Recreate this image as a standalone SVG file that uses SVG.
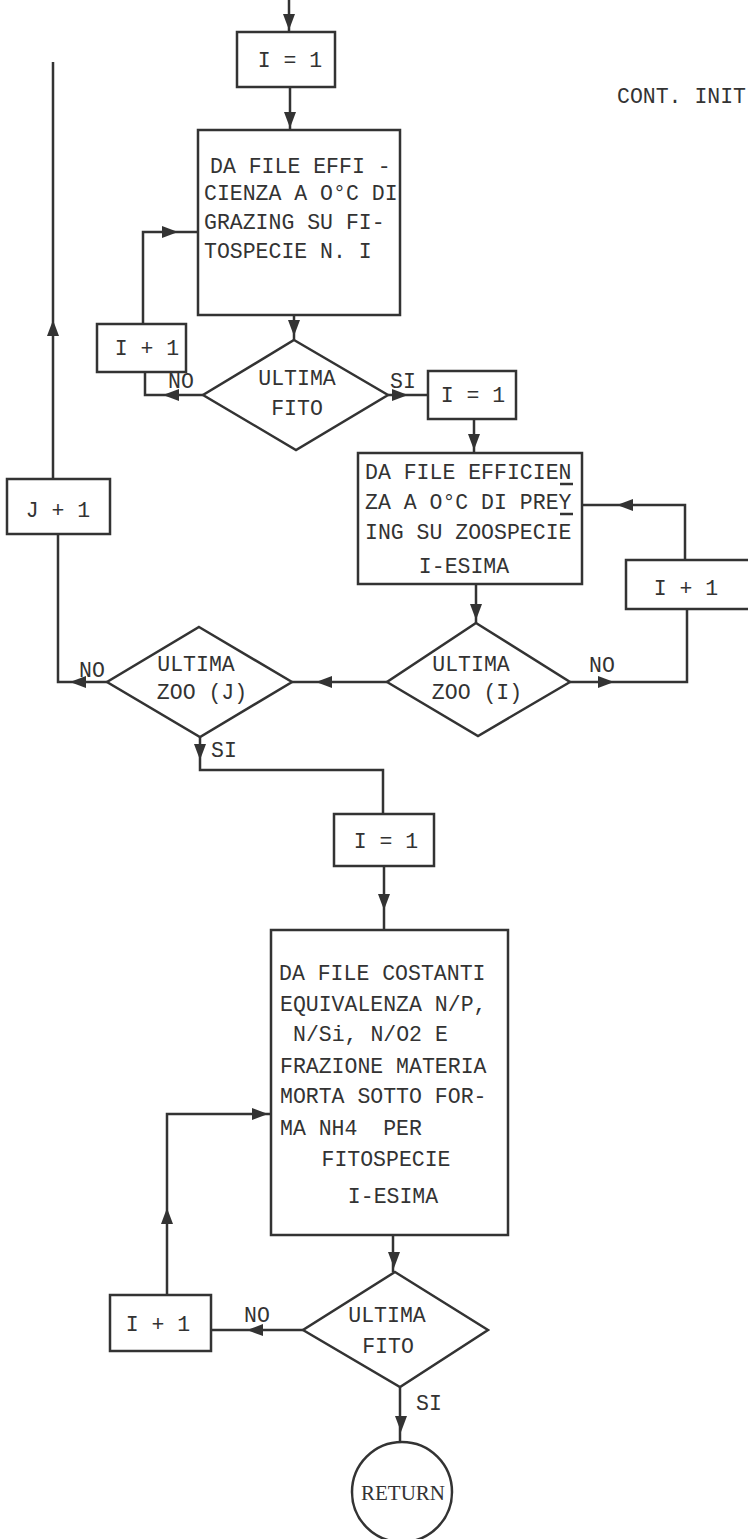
<svg xmlns="http://www.w3.org/2000/svg" xmlns:xlink="http://www.w3.org/1999/xlink" width="748" height="1539" viewBox="0 0 748 1539">
<style>
.s{fill:none;stroke:#333;stroke-width:2.5}
.b{fill:#fff;stroke:#333;stroke-width:2.5}
text{font-family:"Liberation Mono","DejaVu Sans Mono",monospace;font-size:21.5px;fill:#333;white-space:pre}
.c{text-anchor:middle}
.r{font-family:"Liberation Serif","DejaVu Serif",serif;font-size:21px}
.ah{fill:#333}
</style>
<defs>
<polygon id="ah" points="0,0 -16,-6 -16,6"/>
</defs>
<rect width="748" height="1539" fill="#fff"/>
<text x="617" y="103">CONT. INIT</text>

<g id="connectors" class="s">
<path d="M289,0 V32"/>
<path d="M290,87 V130"/>
<path d="M294,315 V340"/>
<path d="M143,324 V232 H199"/>
<path d="M203,395 H145 V372"/>
<path d="M388,395 H428"/>
<path d="M474,419 V453"/>
<path d="M582,505 H685 V560"/>
<path d="M476,584 V623"/>
<path d="M687,609 V682 H570"/>
<path d="M387,682 H292"/>
<path d="M107,682 H58 V534"/>
<path d="M53,479 V62"/>
<path d="M200,737 V770 H383 V814"/>
<path d="M384,866 V930"/>
<path d="M167,1295 V1114 H271"/>
<path d="M393,1235 V1272"/>
<path d="M303,1330 H211"/>
<path d="M400,1387 V1442"/>
</g>
<g id="arrowheads" class="ah">
<use xlink:href="#ah" transform="translate(289,30) rotate(90)"/>
<use xlink:href="#ah" transform="translate(290,128) rotate(90)"/>
<use xlink:href="#ah" transform="translate(294,336) rotate(90)"/>
<use xlink:href="#ah" transform="translate(178,232)"/>
<use xlink:href="#ah" transform="translate(163,395) rotate(180)"/>
<use xlink:href="#ah" transform="translate(408,395)"/>
<use xlink:href="#ah" transform="translate(474,450) rotate(90)"/>
<use xlink:href="#ah" transform="translate(617,505) rotate(180)"/>
<use xlink:href="#ah" transform="translate(476,620) rotate(90)"/>
<use xlink:href="#ah" transform="translate(614,682)"/>
<use xlink:href="#ah" transform="translate(316,682) rotate(180)"/>
<use xlink:href="#ah" transform="translate(70,682) rotate(180)"/>
<use xlink:href="#ah" transform="translate(53,320) rotate(-90)"/>
<use xlink:href="#ah" transform="translate(200,760) rotate(90)"/>
<use xlink:href="#ah" transform="translate(384,910) rotate(90)"/>
<use xlink:href="#ah" transform="translate(268,1114)"/>
<use xlink:href="#ah" transform="translate(167,1208) rotate(-90)"/>
<use xlink:href="#ah" transform="translate(394,1268) rotate(90)"/>
<use xlink:href="#ah" transform="translate(247,1330) rotate(180)"/>
<use xlink:href="#ah" transform="translate(401,1432) rotate(90)"/>
</g>
<g id="labels">
<text x="168" y="388">NO</text>
<text x="390" y="388">SI</text>
<text x="589" y="672">NO</text>
<text x="79" y="677">NO</text>
<text x="211" y="757">SI</text>
<text x="244" y="1322">NO</text>
<text x="416" y="1410">SI</text>
</g>

<g id="n_i1a"><rect class="b" x="237" y="32" width="98" height="55"/><text class="c" x="290" y="67">I = 1</text></g>
<g id="n_box1"><rect class="b" x="198" y="130" width="202" height="185"/>
<text x="210" y="173">DA FILE EFFI -</text>
<text x="204" y="200">CIENZA A O°C DI</text>
<text x="204" y="229">GRAZING SU FI-</text>
<text x="204" y="258">TOSPECIE N. I</text>
</g>
<g id="n_ip1a"><rect class="b" x="97" y="324" width="89" height="48"/><text class="c" x="147" y="355">I + 1</text></g>
<g id="n_fito1"><polygon class="b" points="294,340 388,395 296,450 203,395"/><text class="c" x="297" y="385">ULTIMA</text><text class="c" x="297" y="415">FITO</text></g>
<g id="n_i1b"><rect class="b" x="428" y="371" width="88" height="48"/><text class="c" x="473" y="402">I = 1</text></g>
<g id="n_box2"><rect class="b" x="358" y="453" width="224" height="131"/>
<text x="365" y="479">DA FILE EFFICIEN</text>
<text x="365" y="509">ZA A O°C DI PREY</text>
<text x="365" y="539">ING SU ZOOSPECIE</text>
<text class="c" x="464" y="573">I-ESIMA</text>
<path class="s" d="M560,484 H573 M560,514 H573" stroke-width="1.5"/>
</g>
<g id="n_ip1b"><rect class="b" x="626" y="560" width="130" height="49"/><text class="c" x="686" y="595">I + 1</text></g>
<g id="n_zooI"><polygon class="b" points="476,623 570,682 478,736 387,682"/><text class="c" x="471" y="671">ULTIMA</text><text class="c" x="477" y="699">ZOO (I)</text></g>
<g id="n_jp1"><rect class="b" x="7" y="479" width="103" height="55"/><text class="c" x="58" y="517">J + 1</text></g>
<g id="n_zooJ"><polygon class="b" points="199,627 292,682 200,737 107,682"/><text class="c" x="196" y="671">ULTIMA</text><text class="c" x="202" y="699">ZOO (J)</text></g>
<g id="n_i1c"><rect class="b" x="334" y="814" width="100" height="52"/><text class="c" x="386" y="848">I = 1</text></g>
<g id="n_box3"><rect class="b" x="271" y="930" width="237" height="305"/>
<text x="279" y="980">DA FILE COSTANTI</text>
<text x="280" y="1011">EQUIVALENZA N/P,</text>
<text x="293" y="1041">N/Si, N/O2 E</text>
<text x="280" y="1073">FRAZIONE MATERIA</text>
<text x="280" y="1103">MORTA SOTTO FOR-</text>
<text x="280" y="1135">MA NH4  PER</text>
<text class="c" x="386" y="1166">FITOSPECIE</text>
<text class="c" x="393" y="1203">I-ESIMA</text>
</g>
<g id="n_ip1c"><rect class="b" x="110" y="1295" width="101" height="56"/><text class="c" x="158" y="1331">I + 1</text></g>
<g id="n_fito2"><polygon class="b" points="395,1272 488,1330 400,1387 303,1330"/><text class="c" x="387" y="1322">ULTIMA</text><text class="c" x="388" y="1353">FITO</text></g>
<g id="n_return"><circle class="b" cx="402" cy="1492" r="50"/><text class="c r" x="403" y="1500">RETURN</text></g>
</svg>
